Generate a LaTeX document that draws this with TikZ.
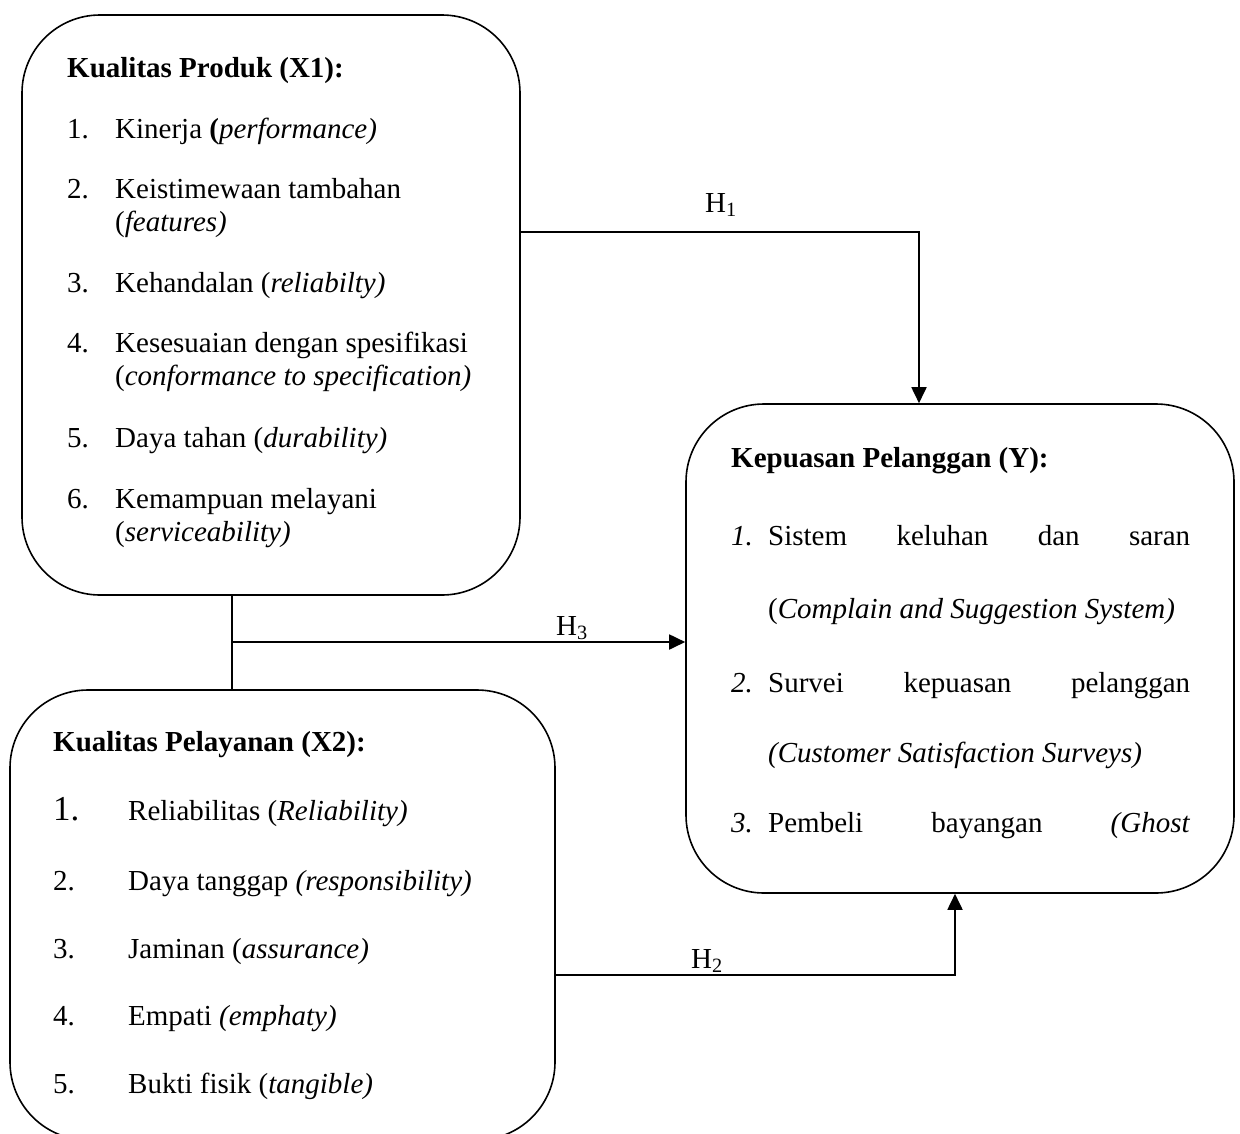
\documentclass[tikz,border=0pt]{standalone}
\usepackage{fontspec}
\setmainfont{Liberation Serif}
\usetikzlibrary{arrows.meta}
\tikzset{
  box/.style={draw, line width=1.6pt, rounded corners=78pt, inner sep=0pt},
  conn/.style={draw, line width=1.8pt},
  arr/.style={-{Triangle[length=16pt,width=15pt]}},
  txt/.style={anchor=base west, inner sep=0pt, font=\fontsize{29}{33}\selectfont},
  hlab/.style={anchor=base, inner sep=0pt, font=\fontsize{29}{33}\selectfont},
}
\begin{document}
\begin{tikzpicture}[x=1pt,y=-1pt]
\useasboundingbox (0,0) rectangle (1240,1133);
% boxes
\node[box, minimum width=498pt, minimum height=580pt] (x1) at (271,305) {};
\node[box, minimum width=548pt, minimum height=489pt] (ybox) at (960,648.5) {};
\node[box, minimum width=545pt, minimum height=450pt] (x2) at (282.5,915) {};

% X1 text
\node[txt] (x1t) at (67,77) {\textbf{Kualitas Produk (X1):}};
\node[txt] (x1n1) at (67,138) {1.};
\node[txt] (x1a) at (115,138) {Kinerja \textbf{(}\textit{performance)}};
\node[txt] (x1n2) at (67,198) {2.};
\node[txt] (x1b) at (115,198) {Keistimewaan tambahan};
\node[txt] (x1b2) at (115,231) {(\textit{features)}};
\node[txt] (x1n3) at (67,292) {3.};
\node[txt] (x1c) at (115,292) {Kehandalan (\textit{reliabilty)}};
\node[txt] (x1n4) at (67,352) {4.};
\node[txt] (x1d) at (115,352) {Kesesuaian dengan spesifikasi};
\node[txt] (x1d2) at (115,385) {(\textit{conformance to specification)}};
\node[txt] (x1n5) at (67,447) {5.};
\node[txt] (x1e) at (115,447) {Daya tahan (\textit{durability)}};
\node[txt] (x1n6) at (67,508) {6.};
\node[txt] (x1f) at (115,508) {Kemampuan melayani};
\node[txt] (x1f2) at (115,541) {(\textit{serviceability)}};

% X2 text
\node[txt] (x2t) at (53,751) {\textbf{Kualitas Pelayanan (X2):}};
\node[txt, font=\fontsize{35}{38}\selectfont] (x2n1) at (53,820) {1.};
\node[txt] (x2a) at (128,820) {Reliabilitas (\textit{Reliability)}};
\node[txt] (x2n2) at (53,890) {2.};
\node[txt] (x2b) at (128,890) {Daya tanggap \textit{(responsibility)}};
\node[txt] (x2n3) at (53,958) {3.};
\node[txt] (x2c) at (128,958) {Jaminan (\textit{assurance)}};
\node[txt] (x2n4) at (53,1025) {4.};
\node[txt] (x2d) at (128,1025) {Empati \textit{(emphaty)}};
\node[txt] (x2n5) at (53,1093) {5.};
\node[txt] (x2e) at (128,1093) {Bukti fisik (\textit{tangible)}};

% Y text
\node[txt] (yt) at (731,467) {\textbf{Kepuasan Pelanggan (Y):}};
\node[txt] (yn1) at (731,545) {\textit{1.}};
\node[txt] (ya) at (768,545) {\makebox[422pt][s]{Sistem\hfill keluhan\hfill dan\hfill saran}};
\node[txt] (ya2) at (768,618) {(\textit{Complain and Suggestion System)}};
\node[txt] (yn2) at (731,692) {\textit{2.}};
\node[txt] (yb) at (768,692) {\makebox[422pt][s]{Survei\hfill kepuasan\hfill pelanggan}};
\node[txt] (yb2) at (768,762) {\textit{(Customer Satisfaction Surveys)}};
\node[txt] (yn3) at (731,832) {\textit{3.}};
\node[txt] (yc) at (768,832) {\makebox[422pt][s]{Pembeli\hfill bayangan\hfill \textit{(Ghost}}};

% connectors
\draw[conn, arr] (x1.east |- 0,232) -| (ybox.north -| 919,0);
\draw[conn] (x1.south -| 232,0) -- (x2.north -| 232,0);
\draw[conn, arr] (232,642) -- (ybox.west |- 0,642);
\draw[conn, arr] (x2.east |- 0,975) -| (ybox.south -| 955,0);

% labels
\node[hlab] (h1) at (721,212) {H\textsubscript{1}};
\node[hlab] (h3) at (572,635) {H\textsubscript{3}};
\node[hlab] (h2) at (707,968) {H\textsubscript{2}};
\end{tikzpicture}
\end{document}
